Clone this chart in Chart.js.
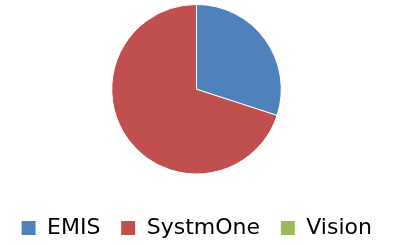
<!DOCTYPE html>
<html><head><meta charset="utf-8">
<script src="https://cdn.jsdelivr.net/npm/chart.js@4"></script>
<style>html,body{margin:0;padding:0;background:#fff;}#wrap{width:395px;height:245px;}</style>
</head><body><div id="wrap"><canvas id="c"></canvas></div>
<script>
const categories = ["EMIS", "SystmOne", "Vision"];
const shareValues = [30, 70, 0];
const sliceColors = ["#4F81BD", "#C0504D", "#9BBB59"];

new Chart(document.getElementById('c'), {
  type: 'pie',
  data: {
    labels: categories,
    datasets: [{ data: shareValues, backgroundColor: sliceColors, borderColor: '#ffffff', borderWidth: 1 }]
  },
  options: {
    responsive: true, maintainAspectRatio: false, animation: false,
    layout: { padding: { top: 4, bottom: 0, left: 0, right: 2 } },
    plugins: {
      tooltip: { enabled: false },
      legend: {
        position: 'bottom',
        maxHeight: 70.5,
        title: { display: true, text: ' ', font: { size: 10, lineHeight: 1.2 }, padding: { top: 10.2, bottom: 0 } },
        labels: { color: '#000', boxWidth: 15, boxHeight: 15, padding: 20.3,
          font: { family: 'DejaVu Sans', size: 22 } }
      }
    }
  }
});
</script></body></html>
